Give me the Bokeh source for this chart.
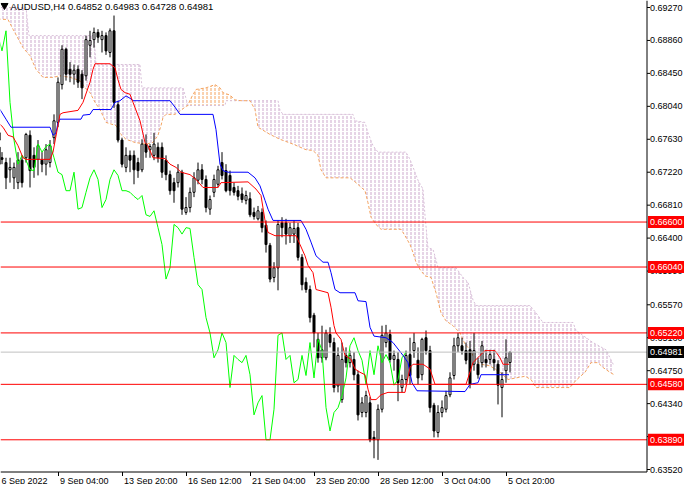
import numpy as np
from bokeh.plotting import figure
from bokeh.models import Range1d
from bokeh.core.properties import value
from bokeh.embed import file_html
from bokeh.resources import INLINE

# ---------------- data (AUDUSD H4) ----------------
opens = [0.6771,0.6753,0.6740,0.6734,0.6725,0.6715,0.6709,0.6737,0.6740,0.6768,
         0.6743,0.6738,0.6737,0.6732,0.6734,0.6765,0.6784,0.6831,0.6875,0.6850,
         0.6844,0.6850,0.6844,0.6842,0.6880,0.6887,0.6896,0.6887,0.6892,0.6871,
         0.6898,0.6806,0.6762,0.6728,0.6743,0.6743,0.6734,0.6725,0.6757,0.6750,
         0.6743,0.6753,0.6753,0.6737,0.6719,0.6709,0.6709,0.6722,0.6672,0.6678,
         0.6697,0.6712,0.6725,0.6713,0.6676,0.6697,0.6707,0.6734,0.6724,0.6718,
         0.6703,0.6699,0.6695,0.6687,0.6689,0.6672,0.6664,0.6672,0.6656,0.6631,
         0.6591,0.6603,0.6659,0.6659,0.6643,0.6645,0.6653,0.6616,0.6585,0.6576,
         0.6544,0.6514,0.6491,0.6491,0.6520,0.6510,0.6456,0.6439,0.6494,0.6485,
         0.6489,0.6470,0.6423,0.6423,0.6435,0.6392,0.6389,0.6427,0.6510,0.6520,
         0.6489,0.6489,0.6454,0.6464,0.6495,0.6500,0.6488,0.6470,0.6516,0.6500,
         0.6432,0.6398,0.6423,0.6427,0.6445,0.6469,0.6506,0.6506,0.6500,0.6501,
         0.6483,0.6483,0.6485,0.6489,0.6489,0.6489,0.6483,0.6454,0.6475,0.64852]
highs = [0.6778,0.6759,0.6747,0.6740,0.6740,0.6734,0.6747,0.6743,0.6771,0.6774,
         0.6753,0.6762,0.6747,0.6757,0.6762,0.6794,0.6840,0.6880,0.6877,0.6859,
         0.6856,0.6855,0.6849,0.6892,0.6898,0.6902,0.6900,0.6898,0.6896,0.6901,
         0.6917,0.6811,0.6765,0.6753,0.6749,0.6749,0.6740,0.6763,0.6769,0.6757,
         0.6771,0.6759,0.6759,0.6743,0.6724,0.6715,0.6732,0.6725,0.6691,0.6703,
         0.6722,0.6734,0.6732,0.6718,0.6693,0.6719,0.6730,0.6747,0.6732,0.6724,
         0.6709,0.6705,0.6703,0.6699,0.6697,0.6678,0.6680,0.6677,0.6662,0.6634,
         0.6610,0.6662,0.6666,0.6664,0.6659,0.6662,0.6659,0.6620,0.6591,0.6581,
         0.6547,0.6522,0.6531,0.6526,0.6529,0.6516,0.6504,0.6510,0.6504,0.6500,
         0.6498,0.6475,0.6442,0.6450,0.6442,0.6400,0.6433,0.6531,0.6532,0.6526,
         0.6500,0.6498,0.6470,0.6500,0.6516,0.6522,0.6504,0.6516,0.6525,0.6506,
         0.6435,0.6432,0.6438,0.6450,0.6473,0.6516,0.6522,0.6516,0.6510,0.6512,
         0.6522,0.6491,0.6512,0.6501,0.6501,0.6501,0.6488,0.6473,0.6514,0.64983]
lows = [0.6757,0.6728,0.6732,0.6701,0.6709,0.6701,0.6701,0.6703,0.6734,0.6703,
        0.6715,0.6718,0.6722,0.6718,0.6728,0.6757,0.6778,0.6825,0.6836,0.6834,
        0.6831,0.6827,0.6813,0.6836,0.6865,0.6877,0.6883,0.6871,0.6868,0.6865,
        0.6802,0.6759,0.6728,0.6722,0.6722,0.6707,0.6715,0.6722,0.6740,0.6740,
        0.6737,0.6734,0.6715,0.6712,0.6694,0.6684,0.6703,0.6669,0.6669,0.6672,
        0.6691,0.6707,0.6707,0.6672,0.6669,0.6691,0.6703,0.6713,0.6697,0.6693,
        0.6693,0.6687,0.6684,0.6682,0.6666,0.6663,0.6662,0.6647,0.6622,0.6585,
        0.6585,0.6575,0.6641,0.6632,0.6634,0.6634,0.6612,0.6575,0.6572,0.6535,
        0.6504,0.6485,0.6485,0.6488,0.6504,0.6448,0.6448,0.6435,0.6479,0.6479,
        0.6463,0.6413,0.6417,0.6417,0.6386,0.6366,0.6364,0.6423,0.6504,0.6485,
        0.6475,0.6437,0.6448,0.6458,0.6458,0.6491,0.6458,0.6463,0.6495,0.6423,
        0.6392,0.6392,0.6417,0.6423,0.6442,0.6464,0.6498,0.6495,0.6483,0.6453,
        0.6475,0.6465,0.6479,0.6479,0.6483,0.6475,0.6433,0.6417,0.6460,0.64728]
closes = [0.6762,0.6732,0.6738,0.6715,0.6728,0.6728,0.6737,0.6709,0.6769,0.6724,
          0.6728,0.6755,0.6732,0.6750,0.6755,0.6786,0.6834,0.6875,0.6844,0.6844,
          0.6849,0.6834,0.6827,0.6887,0.6886,0.6896,0.6890,0.6892,0.6873,0.6898,
          0.6809,0.6762,0.6732,0.6743,0.6737,0.6725,0.6724,0.6757,0.6747,0.6754,
          0.6757,0.6740,0.6722,0.6719,0.6699,0.6699,0.6722,0.6676,0.6678,0.6697,
          0.6715,0.6725,0.6713,0.6678,0.6688,0.6713,0.6725,0.6718,0.6699,0.6699,
          0.6697,0.6692,0.6688,0.6693,0.6669,0.6667,0.6674,0.6653,0.6632,0.6589,
          0.6603,0.6657,0.6653,0.6645,0.6653,0.6652,0.6616,0.6582,0.6576,0.6541,
          0.6522,0.6491,0.6501,0.6522,0.6510,0.6454,0.6494,0.6489,0.6485,0.6494,
          0.6470,0.6420,0.6435,0.6444,0.6389,0.6389,0.6427,0.6519,0.6522,0.6489,
          0.6494,0.6460,0.6464,0.6494,0.6469,0.6510,0.6466,0.6514,0.6500,0.6429,
          0.6400,0.6423,0.6429,0.6444,0.6466,0.6506,0.6516,0.6500,0.6488,0.6458,
          0.6500,0.6470,0.6506,0.6485,0.6495,0.6485,0.6457,0.6464,0.6491,0.64981]

# Ichimoku lines: (bar index, price)
tenkan_pts = [(-0.25,0.6799),(1,0.6784),(2.25,0.6778),(3.5,0.6768),(4.75,0.6766),(6,0.6755),
              (7.25,0.6740),(8,0.6738),(14,0.6738),(14.75,0.6747),(16.5,0.6794),(17.25,0.6796),
              (21,0.6799),(22.25,0.6809),(24,0.6834),(24.75,0.6850),(25.25,0.6857),(29,0.6857),
              (30.25,0.6852),(31,0.6837),(31.75,0.6825),(32.75,0.6821),(34,0.6819),(34.75,0.6809),
              (36.5,0.6786),(37.75,0.6759),(38.5,0.6755),(39.75,0.6740),(42.75,0.6739),(44,0.6732),
              (45.5,0.6728),(46.75,0.6722),(49,0.6719),(50.5,0.6713),(52.25,0.6703),(56,0.6703),
              (56.75,0.6709),(63.5,0.6710),(65.5,0.6701),(66.75,0.6693),(67.75,0.6662),(68.5,0.6647),
              (70.25,0.6643),(75.5,0.6643),(76.5,0.6632),(77.75,0.6618),(78.5,0.6606),(79.75,0.6597),
              (80.5,0.6576),(83.5,0.6572),(84.25,0.6554),(85,0.6531),(85.5,0.6522),(86.75,0.6514),
              (87.75,0.6494),(89.25,0.6489),(90.25,0.6477),(91.5,0.6473),(92.75,0.6470),(93.5,0.6452),
              (94.25,0.6439),(95.5,0.6439),(96.75,0.6445),(98.5,0.6448),(102.75,0.6448),(104,0.6479),
              (104.75,0.6483),(107.25,0.6483),(109,0.6477),(110.25,0.6458),(118,0.6458),(119.75,0.6485),
              (121.5,0.6494),(122.75,0.6500),(125.25,0.6500),(126.5,0.6491),(127.25,0.6483),(128.75,0.6483)]
kijun_pts = [(-0.25,0.6834),(0.5,0.6809),(1.5,0.6800),(3,0.6788),(4.25,0.6778),(14,0.6778),
             (14.75,0.6768),(15.5,0.6771),(16,0.6784),(16.5,0.6788),(21.75,0.6788),(22.25,0.6793),
             (24,0.6794),(24.75,0.6800),(29.25,0.6800),(30.25,0.6809),(31.5,0.6811),(33,0.6817),
             (34,0.6814),(34.75,0.6811),(44,0.6811),(45.25,0.6803),(46.5,0.6794),(54.75,0.6794),
             (55.5,0.6775),(56.5,0.6732),(57.25,0.6724),(58.5,0.6722),(63.5,0.6722),(65.25,0.6715),
             (66.5,0.6705),(67.75,0.6687),(68.5,0.6676),(69.75,0.6662),(76.75,0.6662),(78,0.6651),
             (79.25,0.6635),(80.5,0.6618),(82.25,0.6610),(83.5,0.6610),(84.25,0.6597),(85.25,0.6576),
             (86.5,0.6572),(90.25,0.6572),(91,0.6562),(93,0.6561),(94,0.6529),(95,0.6518),
             (98,0.6516),(99.75,0.6510),(102.25,0.6494),(103.5,0.6485),(104.5,0.6460),(105.75,0.6450),
             (117.75,0.6449),(119,0.6458),(121,0.6460),(121.75,0.6470),(128.75,0.6470)]
span_a_pts = [(-0.25,0.6913),(3.5,0.6912),(4.75,0.6900),(7.25,0.6877),(9,0.6867),(10.5,0.6850),
              (12.25,0.6840),(14.75,0.6840),(16.5,0.6842),(19,0.6840),(21.5,0.6836),(22.75,0.6827),
              (24,0.6821),(25.25,0.6809),(26.5,0.6800),(28,0.6784),(30.5,0.6780),(31.75,0.6769),
              (33,0.6763),(35.25,0.6759),(38,0.6757),(39.75,0.6759),(41,0.6768),(41.75,0.6780),
              (42.25,0.6790),(43,0.6794),(45.25,0.6794),(46.75,0.6799),(48,0.6804),(48.5,0.6805),
              (49,0.6812),(50.5,0.6825),(53,0.6827),(55.25,0.6831),(56.5,0.6827),(57.25,0.6821),
              (59,0.6818),(60.25,0.6812),(61.75,0.6811),(64,0.6811),(65.25,0.6800),(66,0.6778),
              (69,0.6769),(71.5,0.6763),(74.75,0.6757),(78,0.6750),(79.75,0.6749),(81,0.6743),
              (81.75,0.6725),(83,0.6715),(89,0.6715),(90.5,0.6709),(92.75,0.6699),(93.5,0.6684),
              (94.25,0.6666),(95.5,0.6657),(96.75,0.6651),(101.75,0.6651),(102.75,0.6643),(104,0.6632),
              (104.75,0.6622),(105.5,0.6610),(106.5,0.6601),(107.75,0.6593),(109.25,0.6591),(110.5,0.6572),
              (111.75,0.6547),(113,0.6537),(114.75,0.6531),(116.5,0.6522),(117.75,0.6508),(119,0.6501),
              (120.25,0.6489),(121.75,0.6483),(124,0.6481),(126.5,0.6473),(128.5,0.6464),(130.5,0.6466),
              (132.75,0.6468),(134.25,0.6464),(135.5,0.6454),(144,0.6454),(145.5,0.6463),(147.75,0.6473),
              (149.25,0.6485),(151,0.6485),(152.25,0.6479),(154,0.6473),(155,0.6470)]
span_b_pts = [(-0.25,0.6927),(8,0.6927),(8.75,0.6892),(25,0.6892),(25.5,0.6856),(36.5,0.6856),
              (37,0.6827),(47.25,0.6827),(48.5,0.6805),(57.75,0.6805),(58,0.6811),(64,0.6811),
              (71,0.6811),(71.5,0.6799),(72.25,0.6794),(89.75,0.6794),(90.25,0.6786),(92.75,0.6784),
              (93.5,0.6771),(94.75,0.6755),(96,0.6747),(103,0.6747),(104,0.6738),(105.25,0.6722),
              (106,0.6712),(107.25,0.6701),(107.75,0.6668),(108.5,0.6628),(109.75,0.6626),(110.5,0.6613),
              (111,0.6603),(115.5,0.6603),(117.25,0.6591),(118.5,0.6585),(119.75,0.6563),(120.5,0.6556),
              (134,0.6556),(135.5,0.6547),(137.25,0.6535),(144.75,0.6535),(145.5,0.6525),(149.75,0.6510),
              (153,0.6501),(155,0.6481)]
kumo_bull_ranges = [(48.5, 64)]               # Senkou A above Senkou B
kumo_bear_ranges = [(-1, 48.5), (64, 156)]    # Senkou B above Senkou A

level_prices = [0.66600, 0.66040, 0.65220, 0.64580, 0.63890]
level_labels = ["0.66600", "0.66040", "0.65220", "0.64580", "0.63890"]
last_price = 0.64981
last_label = "0.64981"
ytick_values = [0.69270, 0.68860, 0.68450, 0.68040, 0.67630, 0.67220, 0.66810, 0.66400,
                0.65990, 0.65570, 0.65160, 0.64750, 0.64340, 0.63930, 0.63520]
ytick_labels = ["0.69270", "0.68860", "0.68450", "0.68040", "0.67630", "0.67220", "0.66810",
                "0.66400", "0.65990", "0.65570", "0.65160", "0.64750", "0.64340", "0.63930",
                "0.63520"]
xtick_idx = [0, 16, 32, 48, 64, 80, 96, 112, 128]
xtick_labels = ["6 Sep 2022", "9 Sep 04:00", "13 Sep 20:00", "16 Sep 12:00", "21 Sep 04:00",
                "23 Sep 20:00", "28 Sep 12:00", "3 Oct 04:00", "5 Oct 20:00"]
title_text = "AUDUSD,H4  0.64852 0.64983 0.64728 0.64981"
chikou_shift = 26

# ---------------- layout helpers (page pixels -> data) ----------------
FONT = "Liberation Sans"
FS = "9px"
W, H = 684, 484
X0 = 1.625                       # bar index at the canvas left edge
PX = 0.25                        # bar units per pixel (4 px per bar)
PY = 1.0 / 8035.0                # price per pixel
Y_TOP = 0.6927 + 7 * PY          # price at the canvas top edge


def dx(page_x):
    return X0 + (page_x - 8) * PX


def dy(page_y):
    return Y_TOP - (page_y - 8) * PY


AX_X = dx(654.5)                 # price scale line
AX_Y = dy(479.5)                 # time scale line
LBL_X = dx(657.5)                # price label start

p = figure(width=W, height=H, output_backend="svg", toolbar_location=None,
           x_range=Range1d(X0, X0 + W * PX), y_range=Range1d(Y_TOP - H * PY, Y_TOP),
           x_axis_type=None, y_axis_type=None, min_border=0)
p.outline_line_color = None
p.background_fill_color = "white"
p.border_fill_color = "white"


def region(pa, pb, lo, hi):
    a = [q for q in pa if lo <= q[0] <= hi]
    b = [q for q in pb if lo <= q[0] <= hi][::-1]
    pts = a + b
    return [q[0] for q in pts], [q[1] for q in pts]


# kumo (dotted vertical hatch)
for lo, hi in kumo_bear_ranges:
    xs, ys = region(span_a_pts, span_b_pts, lo, hi)
    p.patch(xs, ys, fill_color=None, line_color=None, hatch_pattern=":",
            hatch_color="#CDA9CD", hatch_scale=4, hatch_weight=1)
for lo, hi in kumo_bull_ranges:
    xs, ys = region(span_a_pts, span_b_pts, lo, hi)
    p.patch(xs, ys, fill_color=None, line_color=None, hatch_pattern=":",
            hatch_color="#F4A460", hatch_scale=4, hatch_weight=1)

p.line([q[0] for q in span_b_pts], [q[1] for q in span_b_pts], line_color="#D8BFD8",
       line_width=1, line_dash="2 2")
p.line([q[0] for q in span_a_pts], [q[1] for q in span_a_pts], line_color="#F4A460",
       line_width=1, line_dash="3 2")

# candles
idx = np.arange(len(closes))
o = np.array(opens); c = np.array(closes); h = np.array(highs); l = np.array(lows)
p.segment(x0=idx, y0=l, x1=idx, y1=h, line_color="black", line_width=1)
bull = c >= o
bear = ~bull
p.vbar(x=idx[bull], width=0.5, top=c[bull], bottom=o[bull], fill_color="white",
       line_color="black", line_width=1)
p.vbar(x=idx[bear], width=0.5, top=o[bear], bottom=c[bear], fill_color="black",
       line_color="black", line_width=1)

# ichimoku lines
p.line(idx - chikou_shift, closes, line_color="#00FF00", line_width=1)
p.line([q[0] for q in kijun_pts], [q[1] for q in kijun_pts], line_color="#0000FF", line_width=1)
p.line([q[0] for q in tenkan_pts], [q[1] for q in tenkan_pts], line_color="#FF0000", line_width=1)

# current price line and horizontal levels (stop at the price scale)
p.segment(x0=[X0], y0=[last_price], x1=[AX_X], y1=[last_price], line_color="#C0C0C0", line_width=1)
p.segment(x0=[X0] * len(level_prices), y0=level_prices, x1=[AX_X] * len(level_prices),
          y1=level_prices, line_color="#FF0000", line_width=1)

# ---- price scale (right) ----
p.segment(x0=[AX_X], y0=[AX_Y], x1=[AX_X], y1=[Y_TOP], line_color="black", line_width=1)
p.segment(x0=[AX_X] * len(ytick_values), y0=ytick_values,
          x1=[AX_X + 3 * PX] * len(ytick_values), y1=ytick_values, line_color="black", line_width=1)
p.text(x=[LBL_X] * len(ytick_values), y=ytick_values, text=ytick_labels,
       text_font=value(FONT), text_font_size=value(FS), text_color="black",
       text_align="left", text_baseline="middle")

# price tags
tag_x = dx(655.5)
tag_h = 12 * PY
p.quad(left=[tag_x] * len(level_prices), right=[dx(700)] * len(level_prices),
       bottom=[v - tag_h / 2 for v in level_prices], top=[v + tag_h / 2 for v in level_prices],
       fill_color="#FF0000", line_color=None)
p.text(x=[LBL_X] * len(level_prices), y=level_prices, text=level_labels,
       text_font=value(FONT), text_font_size=value(FS), text_color="white",
       text_align="left", text_baseline="middle")
p.quad(left=[tag_x], right=[dx(700)], bottom=[last_price - tag_h / 2],
       top=[last_price + tag_h / 2], fill_color="black", line_color=None)
p.text(x=[LBL_X], y=[last_price], text=[last_label], text_font=value(FONT),
       text_font_size=value(FS), text_color="white", text_align="left", text_baseline="middle")

# ---- time scale (bottom) ----
p.segment(x0=[X0], y0=[AX_Y], x1=[AX_X], y1=[AX_Y], line_color="black", line_width=1)
p.segment(x0=[t + 0.125 for t in xtick_idx], y0=[AX_Y] * len(xtick_idx),
          x1=[t + 0.125 for t in xtick_idx], y1=[AX_Y - 4 * PY] * len(xtick_idx),
          line_color="black", line_width=1)
time_x = [max(t + 2 * PX, dx(9)) for t in xtick_idx]
p.text(x=time_x, y=[dy(488)] * len(xtick_idx), text=xtick_labels, text_font=value(FONT),
       text_font_size=value(FS), text_color="black", text_align="left", text_baseline="middle")

# ---- title ----
p.scatter([dx(12)], [dy(13)], marker="inverted_triangle", size=7, color="black")
p.text(x=[dx(18)], y=[dy(14)], text=[title_text], text_font=value(FONT),
       text_font_size=value("9.5px"), text_color="black", text_align="left",
       text_baseline="middle")

open("out.html", "w").write(file_html(p, INLINE))
